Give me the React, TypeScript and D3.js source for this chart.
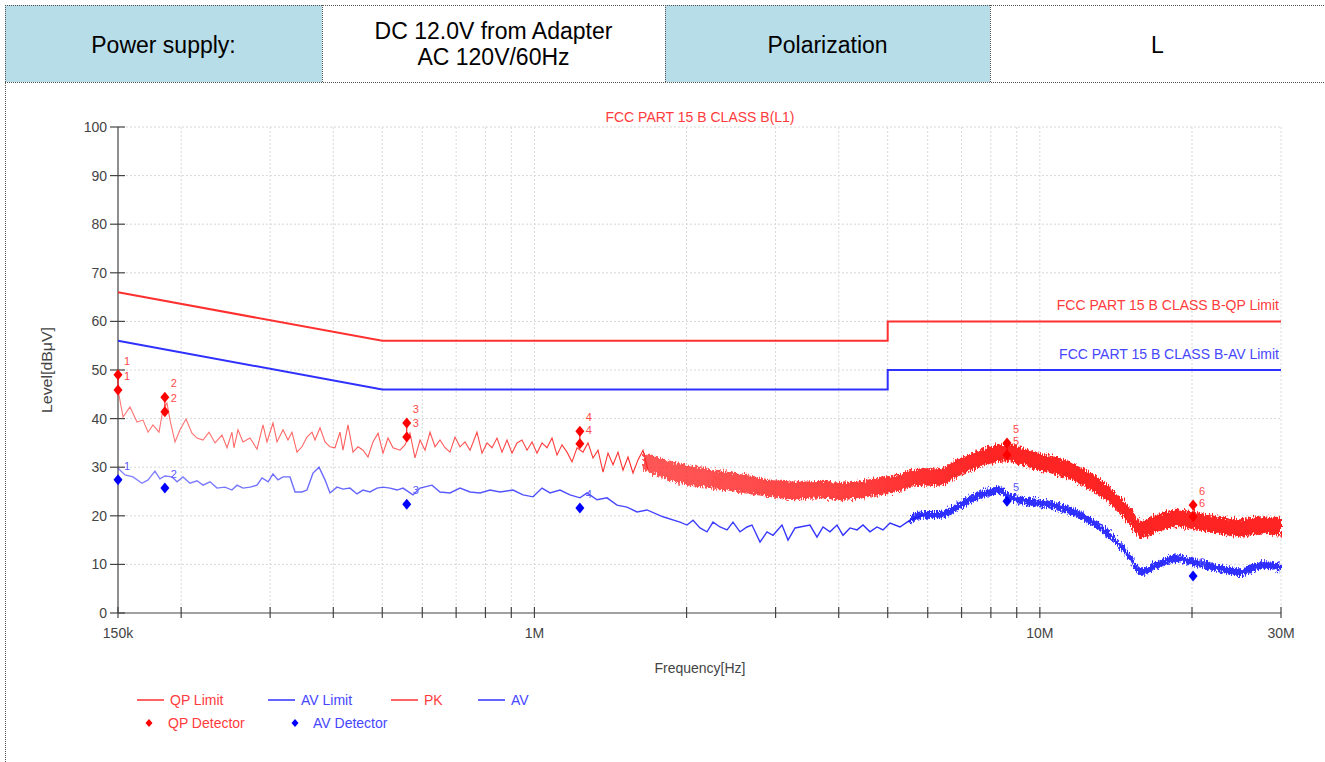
import * as d3 from 'd3';

// frequencies in kHz, levels in dBuV
const QP_LIMIT: [number, number][] = [[150, 66], [500, 56], [5000, 56], [5000, 60], [30000, 60]];
const AV_LIMIT: [number, number][] = [[150, 56], [500, 46], [5000, 46], [5000, 50], [30000, 50]];

// PK trace, low band (read point by point)
const PK_TRACE: [number, number][] = [
  [150.0, 45.9], [153.5, 40.3], [158.4, 42.4], [163.6, 39.3], [168.1, 39.7], [172.0, 37.2], [175.9, 38.7],
  [180.8, 37.2], [184.1, 41.8], [187.5, 43.2], [190.1, 39.7], [194.5, 35.2], [199.0, 37.7], [204.5, 39.9],
  [210.1, 37.0], [215.0, 36.0], [220.9, 35.6], [227.1, 37.2], [233.4, 35.0], [240.9, 36.6], [246.5, 34.0],
  [252.1, 37.2], [254.4, 34.0], [259.1, 37.7], [265.1, 35.2], [273.7, 36.0], [282.6, 33.7], [290.4, 38.7],
  [295.7, 35.2], [303.9, 39.1], [309.5, 35.2], [318.1, 37.7], [325.4, 35.6], [331.4, 37.2], [339.0, 33.1],
  [346.8, 34.2], [354.8, 36.2], [363.0, 37.2], [368.0, 35.6], [376.5, 38.1], [385.2, 35.2], [394.0, 34.2],
  [403.1, 34.0], [412.4, 37.2], [418.1, 33.5], [427.7, 38.7], [437.6, 33.1], [447.7, 34.2], [458.0, 33.5],
  [468.5, 32.1], [479.3, 35.2], [490.4, 37.0], [501.7, 32.9], [513.2, 36.0], [525.0, 34.0], [542.1, 33.5],
  [554.5, 34.6], [567.3, 37.0], [580.4, 31.9], [593.8, 35.6], [607.5, 33.5], [621.5, 37.2], [635.8, 34.2],
  [650.4, 35.6], [665.4, 34.0], [680.7, 33.1], [696.4, 36.2], [712.5, 34.2], [728.9, 35.2], [745.7, 33.5],
  [769.8, 37.2], [787.6, 32.9], [805.7, 35.0], [824.3, 34.0], [843.3, 36.0], [862.7, 33.1], [882.6, 35.6],
  [902.9, 32.9], [923.7, 35.0], [945.0, 35.6], [966.8, 33.5], [989.1, 35.2], [1011.9, 32.9], [1035.2, 35.0],
  [1059.0, 34.0], [1083.4, 36.0], [1108.4, 32.5], [1133.9, 34.6], [1160.0, 33.1], [1186.7, 31.1],
  [1214.1, 34.0], [1247.7, 33.1], [1276.5, 35.0], [1305.9, 31.9], [1336.0, 33.5], [1366.8, 29.0],
  [1398.2, 32.9], [1430.5, 30.5], [1463.4, 33.1], [1497.1, 29.4], [1531.6, 32.1], [1566.9, 28.8],
  [1603.0, 31.5], [1640.0, 33.5], [1677.8, 29.4],
];

// PK trace, dense part: [kHz, low, high]
const PK_BAND: [number, number, number][] = [
  [1640, 29.5, 33.0], [1941, 26.6, 30.8], [2256, 25.6, 29.6], [2634, 24.6, 28.4], [3061, 23.6, 27.2],
  [3353, 23.4, 27.0], [3724, 23.6, 27.2], [4024, 23.2, 26.8], [4348, 23.6, 27.2], [5053, 24.6, 28.2],
  [5873, 26.2, 29.8], [6346, 26.2, 29.8], [6857, 28.0, 31.6], [7376, 29.4, 33.0], [7969, 30.7, 34.3],
  [8611, 31.2, 34.8], [9693, 29.7, 33.3], [10966, 28.2, 31.8], [12173, 26.2, 29.8], [13580, 22.9, 26.5],
  [14875, 18.8, 22.4], [15930, 15.4, 19.0], [17055, 16.7, 20.3], [18680, 17.7, 21.3], [20090, 17.3, 20.9],
  [22410, 16.3, 19.9], [24880, 15.7, 19.3], [27270, 16.3, 19.9], [30000, 15.9, 19.5],
];

// AV trace, low band
const AV_TRACE: [number, number][] = [
  [150.0, 29.8], [154.9, 28.4], [160.6, 28.0], [167.3, 26.7], [172.0, 27.4], [177.5, 29.2], [181.6, 27.6],
  [185.8, 28.2], [191.8, 28.0], [196.3, 27.0], [201.7, 28.0], [208.2, 26.7], [215.0, 27.2], [220.9, 26.3],
  [228.1, 27.0], [235.5, 25.7], [244.2, 25.9], [252.1, 25.3], [258.0, 26.3], [265.1, 25.7], [273.7, 25.9],
  [282.6, 26.3], [289.1, 27.8], [297.3, 27.0], [303.9, 28.6], [310.9, 27.4], [318.1, 28.0], [328.4, 28.0],
  [336.0, 24.9], [346.8, 24.9], [354.8, 25.3], [364.7, 28.8], [374.8, 30.0], [385.2, 27.4], [394.0, 24.7],
  [406.8, 25.9], [418.1, 25.5], [431.6, 25.7], [445.6, 24.5], [458.0, 25.3], [472.8, 24.9], [488.1, 25.7],
  [501.7, 25.9], [517.9, 25.7], [534.7, 25.3], [549.5, 25.7], [575.1, 24.3], [593.8, 25.7], [627.1, 26.3],
  [650.4, 24.9], [680.7, 24.7], [712.5, 25.7], [745.7, 24.9], [780.4, 24.7], [816.8, 25.3], [854.9, 24.9],
  [907.0, 25.3], [949.3, 24.3], [993.6, 23.9], [1035.2, 25.7], [1073.6, 24.7], [1123.6, 25.3], [1176.0, 24.3],
  [1230.8, 23.7], [1270.7, 24.7], [1329.9, 23.3], [1391.9, 23.7], [1456.7, 22.2], [1524.6, 21.8],
  [1595.7, 20.8], [1670.1, 21.2], [1796, 19.8], [1941, 18.7], [2004, 18.1], [2060, 19.1], [2126, 17.5],
  [2195, 16.7], [2256, 18.7], [2329, 17.7], [2405, 17.1], [2471, 18.7], [2551, 16.7], [2634, 17.7],
  [2694, 18.1], [2795, 14.6], [2885, 16.7], [2965, 16.0], [3089, 18.1], [3175, 15.0], [3278, 17.5],
  [3353, 17.7], [3509, 18.1], [3623, 15.6], [3724, 17.7], [3844, 16.7], [3969, 18.1], [4079, 16.0],
  [4211, 17.5], [4348, 17.1], [4468, 18.1], [4612, 16.7], [4762, 17.7], [4894, 17.1], [5053, 18.5],
  [5288, 17.7], [5534, 19.1], [5873, 20.2],
];

const AV_BAND: [number, number, number][] = [
  [5534, 18.4, 20.0], [5873, 19.4, 21.0], [6346, 19.4, 21.0], [6857, 21.0, 22.6], [7376, 22.9, 24.5],
  [7969, 24.1, 25.7], [8340, 24.5, 26.1], [8611, 23.3, 24.9], [9693, 22.0, 23.6], [10966, 21.0, 22.6],
  [12173, 19.0, 20.6], [13580, 15.7, 17.3], [14875, 11.5, 13.1], [15930, 7.6, 9.2], [17055, 9.1, 10.7],
  [18680, 10.5, 12.1], [20090, 9.7, 11.3], [22410, 8.5, 10.1], [24880, 7.6, 9.2], [27640, 9.1, 10.7],
  [30000, 8.5, 10.1],
];

// detector readings
const MARKER_FREQ = [150, 185.7, 559, 1230, 8610, 20100];
const QP_UPPER = [49.0, 44.4, 39.1, 37.4, 35.0, 22.2];
const QP_LOWER = [45.9, 41.4, 36.2, 34.8, 32.5, 19.8];
const AV_DETECT = [27.4, 25.7, 22.4, 21.6, 23.0, 7.6];

const GRID_FREQ = [150, 200, 300, 400, 500, 600, 700, 800, 900, 1000, 2000, 3000, 4000, 5000, 6000, 7000, 8000, 9000, 10000, 20000, 30000];
const FREQ_LABELS: Record<number, string> = { 150: '150k', 1000: '1M', 10000: '10M', 30000: '30M' };
const LEVEL_TICKS = [0, 10, 20, 30, 40, 50, 60, 70, 80, 90, 100];

const RED = '#ff1e1e';
const BLUE = '#1e1eff';
const FONT = '"Liberation Sans", Arial, sans-serif';

const diamond = (cx: number, cy: number, w = 4.5, h = 5.5) =>
  `M${cx},${cy - h}L${cx + w},${cy}L${cx},${cy + h}L${cx - w},${cy}Z`;

export default function App() {
  const x = d3.scaleLog().domain([150, 30000]).range([118, 1281]);
  const y = d3.scaleLinear().domain([0, 100]).range([613, 127]);

  const line = d3.line<[number, number]>().x(d => x(d[0])).y(d => y(d[1]));
  const band = d3.area<[number, number, number]>()
    .x(d => x(d[0])).y0(d => y(d[1])).y1(d => y(d[2]))
    .curve(d3.curveMonotoneX);

  const cells = [
    { x0: 5, x1: 322, fill: '#b7dde8', lines: ['Power supply:'] },
    { x0: 322, x1: 665, fill: '#ffffff', lines: ['DC 12.0V from Adapter', 'AC 120V/60Hz'] },
    { x0: 665, x1: 990, fill: '#b7dde8', lines: ['Polarization'] },
    { x0: 990, x1: 1325, fill: '#ffffff', lines: ['L'] },
  ];

  return (
    <svg width={1325} height={762} style={{ position: 'absolute', left: 0, top: 0, background: '#fff' }}>
      <defs>
        <filter id="noisy" x="-5%" y="-40%" width="110%" height="180%">
          <feTurbulence type="fractalNoise" baseFrequency="0.9 0.25" numOctaves={2} seed={4} result="n" />
          <feDisplacementMap in="SourceGraphic" in2="n" scale={9} xChannelSelector="R" yChannelSelector="G" />
        </filter>
        <linearGradient id="pkFade" gradientUnits="userSpaceOnUse" x1={x(1640)} x2={x(8000)} y1={0} y2={0}>
          <stop offset="0" stopColor={RED} stopOpacity={0.75} />
          <stop offset="0.55" stopColor={RED} stopOpacity={0.85} />
          <stop offset="1" stopColor={RED} stopOpacity={0.97} />
        </linearGradient>
        <linearGradient id="pkLine" gradientUnits="userSpaceOnUse" x1={x(150)} x2={x(1700)} y1={0} y2={0}>
          <stop offset="0" stopColor={RED} stopOpacity={0.6} />
          <stop offset="0.6" stopColor={RED} stopOpacity={0.75} />
          <stop offset="1" stopColor={RED} stopOpacity={0.95} />
        </linearGradient>
        <linearGradient id="avLine" gradientUnits="userSpaceOnUse" x1={x(150)} x2={x(5900)} y1={0} y2={0}>
          <stop offset="0" stopColor={BLUE} stopOpacity={0.55} />
          <stop offset="0.45" stopColor={BLUE} stopOpacity={0.75} />
          <stop offset="1" stopColor={BLUE} stopOpacity={0.95} />
        </linearGradient>
      </defs>

      {/* header table */}
      {cells.map((c, i) => (
        <g key={i}>
          <rect x={c.x0} y={5} width={c.x1 - c.x0} height={77} fill={c.fill} />
          {c.lines.map((t, j) => (
            <text key={j} x={(c.x0 + c.x1) / 2} y={c.lines.length === 1 ? 53 : 39 + j * 26}
              textAnchor="middle" fontFamily={FONT} fontSize={23} fill="#000">{t}</text>
          ))}
        </g>
      ))}
      <g stroke="#555" strokeWidth={1} strokeDasharray="1,1" fill="none">
        <line x1={5} x2={1325} y1={5.5} y2={5.5} />
        <line x1={5} x2={1325} y1={82.5} y2={82.5} />
        <line x1={5.5} x2={5.5} y1={5} y2={762} />
        {[322, 665, 990].map(v => <line key={v} x1={v + 0.5} x2={v + 0.5} y1={5} y2={82} />)}
      </g>

      {/* grid */}
      <g stroke="#d8d8d8" strokeWidth={1} strokeDasharray="2,2">
        {GRID_FREQ.slice(1).map(f => <line key={f} x1={x(f)} x2={x(f)} y1={127} y2={613} />)}
        {LEVEL_TICKS.slice(1).map(v => <line key={v} x1={118} x2={1281} y1={y(v)} y2={y(v)} />)}
      </g>

      {/* axes */}
      <g stroke="#444" strokeWidth={1.2}>
        <line x1={118} x2={118} y1={127} y2={613} />
        <line x1={118} x2={1281} y1={613} y2={613} />
        {LEVEL_TICKS.map(v => <line key={v} x1={110} x2={125} y1={y(v)} y2={y(v)} />)}
        {GRID_FREQ.map(f => <line key={f} x1={x(f)} x2={x(f)} y1={607} y2={618} />)}
      </g>
      <g fontFamily={FONT} fontSize={14} fill="#444">
        {LEVEL_TICKS.map(v => (
          <text key={v} x={107} y={y(v) + 5} textAnchor="end">{v}</text>
        ))}
        {GRID_FREQ.filter(f => FREQ_LABELS[f]).map(f => (
          <text key={f} x={x(f)} y={638} textAnchor="middle">{FREQ_LABELS[f]}</text>
        ))}
        <text x={700} y={673} textAnchor="middle">Frequency[Hz]</text>
        <text transform="translate(52,370) rotate(-90)" textAnchor="middle" textLength={86} lengthAdjust="spacingAndGlyphs">Level[dBμV]</text>
      </g>

      <text x={700} y={122} textAnchor="middle" fontFamily={FONT} fontSize={14} fill="#ff3b3b">FCC PART 15 B CLASS B(L1)</text>

      {/* traces */}
      <path d={band(PK_BAND) ?? ''} fill="url(#pkFade)" filter="url(#noisy)" />
      <path d={line(PK_TRACE) ?? ''} fill="none" stroke="url(#pkLine)" strokeWidth={1.1} />
      <path d={band(AV_BAND) ?? ''} fill={BLUE} fillOpacity={0.92} filter="url(#noisy)" />
      <path d={line(AV_TRACE) ?? ''} fill="none" stroke="url(#avLine)" strokeWidth={1.4} />

      {/* limits */}
      <path d={line(QP_LIMIT) ?? ''} fill="none" stroke="#ff3030" strokeWidth={2} />
      <path d={line(AV_LIMIT) ?? ''} fill="none" stroke="#3030ff" strokeWidth={2} />
      <text x={1279} y={y(60) - 11} textAnchor="end" fontFamily={FONT} fontSize={14} fill="#ff3b3b">FCC PART 15 B CLASS B-QP Limit</text>
      <text x={1279} y={y(50) - 11} textAnchor="end" fontFamily={FONT} fontSize={14} fill="#4646ff">FCC PART 15 B CLASS B-AV Limit</text>

      {/* detector markers */}
      <g fontFamily={FONT} fontSize={11}>
        {MARKER_FREQ.map((f, i) => (
          <g key={i}>
            <line x1={x(f)} x2={x(f)} y1={y(QP_UPPER[i])} y2={y(QP_LOWER[i])} stroke="#ff0000" strokeWidth={1} />
            <path d={diamond(x(f), y(QP_UPPER[i]))} fill="#ff0000" />
            <path d={diamond(x(f), y(QP_LOWER[i]))} fill="#ff0000" />
            <text x={x(f) + 6} y={y(QP_UPPER[i]) - 10} fill="#ff4a4a">{i + 1}</text>
            <text x={x(f) + 6} y={y(QP_LOWER[i]) - 10} fill="#ff4a4a">{i + 1}</text>
            <path d={diamond(x(f), y(AV_DETECT[i]))} fill="#0000ff" />
            <text x={x(f) + 6} y={y(AV_DETECT[i]) - 10} fill="#5a5aff">{i + 1}</text>
          </g>
        ))}
      </g>

      {/* legend */}
      <g fontFamily={FONT} fontSize={14}>
        {[
          { x0: 137, color: '#ff3030', label: 'QP Limit', tc: '#ff3b3b' },
          { x0: 268, color: '#3030ff', label: 'AV Limit', tc: '#4646ff' },
          { x0: 391, color: '#ff3030', label: 'PK', tc: '#ff3b3b' },
          { x0: 478, color: '#3030ff', label: 'AV', tc: '#4646ff' },
        ].map(d => (
          <g key={d.label}>
            <line x1={d.x0} x2={d.x0 + 27} y1={700} y2={700} stroke={d.color} strokeWidth={1.5} />
            <text x={d.x0 + 33} y={705} fill={d.tc}>{d.label}</text>
          </g>
        ))}
        <path d={diamond(149, 723, 3.5, 4)} fill="#ff0000" />
        <text x={168} y={728} fill="#ff3b3b">QP Detector</text>
        <path d={diamond(295, 723, 3.5, 4)} fill="#0000ff" />
        <text x={313} y={728} fill="#4646ff">AV Detector</text>
      </g>
    </svg>
  );
}
